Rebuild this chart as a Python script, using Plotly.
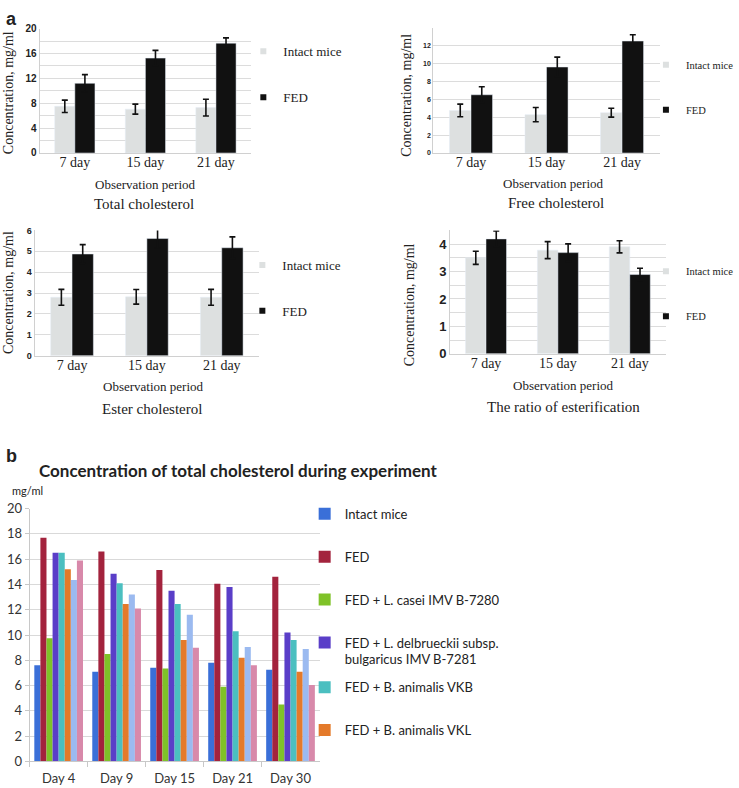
import plotly.graph_objects as go

W, H = 739, 788

# ---- panel a data ----
days_a = ["7 day", "15 day", "21 day"]
total_intact = [7.5, 7.05, 7.3]
total_intact_err = [1.0, 0.8, 1.35]
total_fed = [11.2, 15.25, 17.65]
total_fed_err = [1.4, 1.25, 0.85]

free_intact = [4.75, 4.28, 4.5]
free_intact_err = [0.7, 0.8, 0.5]
free_fed = [6.5, 9.6, 12.5]
free_fed_err = [0.9, 1.1, 0.7]

ester_intact = [2.8, 2.82, 2.8]
ester_intact_err = [0.38, 0.35, 0.38]
ester_fed = [4.87, 5.61, 5.17]
ester_fed_err = [0.45, 0.45, 0.52]

ratio_intact = [3.5, 3.78, 3.9]
ratio_intact_err = [0.24, 0.31, 0.22]
ratio_fed = [4.19, 3.69, 2.89]
ratio_fed_err = [0.29, 0.32, 0.23]

# ---- panel b data ----
days_b = ["Day 4", "Day 9", "Day 15", "Day 21", "Day 30"]
b_names = ["Intact mice", "FED", "FED + L. casei IMV B-7280",
           "FED + L. delbrueckii subsp.<br>bulgaricus IMV B-7281",
           "FED + B. animalis VKB", "FED + B. animalis VKL",
           "Series 7", "Series 8"]
b_intact = [7.6, 7.1, 7.4, 7.8, 7.25]
b_fed = [17.7, 16.6, 15.15, 14.05, 14.6]
b_casei = [9.75, 8.5, 7.35, 5.9, 4.5]
b_delb = [16.5, 14.85, 13.5, 13.8, 10.2]
b_vkb = [16.5, 14.1, 12.45, 10.3, 9.6]
b_vkl = [15.2, 12.45, 9.6, 8.2, 7.1]
b_s7 = [14.35, 13.2, 11.6, 9.05, 8.9]
b_s8 = [15.9, 12.1, 9.0, 7.6, 6.05]
b_colors = ["#3a6fd8", "#a3233d", "#7fc228", "#5a3ec8",
            "#4bbfc0", "#e47a2a", "#9bbaf0", "#d889aa"]

SERIF = "Liberation Serif"
SANS = "Liberation Sans"
CAL = "Lato"
GREY = "#dde0e0"
BLACK = "#111111"


def fx(px):
    return px / W


def fy(py):
    return 1 - py / H


fig = go.Figure()

panels = [
    # idx, intact, ierr, fed, ferr, domain x px, domain y px
    (1, total_intact, total_intact_err, total_fed, total_fed_err, (40, 254), (21, 148)),
    (2, free_intact, free_intact_err, free_fed, free_fed_err, (438, 667), (20, 148)),
    (3, ester_intact, ester_intact_err, ester_fed, ester_fed_err, (35, 262), (227, 355)),
    (4, ratio_intact, ratio_intact_err, ratio_fed, ratio_fed_err, (455, 673), (227, 353)),
]
# legend box left / top in px, legend font size
legend_pos = {1: (246, 29, 13), 2: (653, 43, 10.5), 3: (245, 247, 13), 4: (653, 254, 10.5)}
BW = 0.285

for idx, vi, ei, vf, ef, dx, dy in panels:
    sfx = "" if idx == 1 else str(idx)
    lg = "legend" if idx == 1 else f"legend{idx}"
    err_style = dict(type="data", thickness=1.6, width=3, color="#111111")
    fig.add_trace(go.Bar(x=days_a, y=vi, marker_color=GREY, showlegend=False,
                         width=BW, offset=-BW,
                         error_y=dict(array=ei, **err_style),
                         xaxis="x" + sfx, yaxis="y" + sfx))
    fig.add_trace(go.Bar(x=days_a, y=vf, marker_color=BLACK, showlegend=False,
                         width=BW, offset=0,
                         error_y=dict(array=ef, **err_style),
                         xaxis="x" + sfx, yaxis="y" + sfx))
    # legend entries
    for nm, col in [("Intact mice", GREY), ("FED", BLACK)]:
        fig.add_trace(go.Scatter(x=[None], y=[None], mode="markers", name=nm,
                                 marker=dict(symbol="square", size=6, color=col),
                                 legend=lg, legendgroup=f"{nm}{idx}",
                                 xaxis="x" + sfx, yaxis="y" + sfx))

# panel b bars
b_series = [b_intact, b_fed, b_casei, b_delb, b_vkb, b_vkl, b_s7, b_s8]
for i, (nm, vals, col) in enumerate(zip(b_names, b_series, b_colors)):
    fig.add_trace(go.Bar(x=days_b, y=vals, name=nm, marker_color=col,
                         marker_line_width=0, showlegend=i < 6,
                         legend="legend5" if i < 4 else "legend6",
                         legendgroup=f"b{i}",
                         xaxis="x5", yaxis="y5"))

layout = dict(
    width=W, height=H, autosize=False,
    margin=dict(l=0, r=0, t=0, b=0),
    paper_bgcolor="white", plot_bgcolor="white",
    barmode="group", bargroupgap=0, bargap=0.16,
    showlegend=True,
)

ax_common_x = dict(showgrid=False, showline=True, linecolor="#d0d0d0", linewidth=1,
                   ticks="", ticklabelstandoff=-4,
                   tickfont=dict(family=SERIF, size=14, color="#222"))
yspecs = {
    1: dict(range=[0, 20], tickvals=[0, 4, 8, 12, 16, 20], minor=dict(dtick=2, showgrid=True, gridcolor="#dcdcdc"),
            tickfont=dict(family=SANS, size=10, color="#222", weight="bold")),
    2: dict(range=[0, 14], tickvals=[0, 2, 4, 6, 8, 10, 12, 14], ticktext=["0", "2", "4", "6", "8", "10", "12", ""],
            tickfont=dict(family=SANS, size=7, color="#222", weight="bold")),
    3: dict(range=[0, 6], dtick=1,
            tickfont=dict(family=SANS, size=9, color="#222", weight="bold")),
    4: dict(range=[0, 4.5], tickvals=[0, 1, 2, 3, 4], minor=dict(dtick=0.5, showgrid=True, gridcolor="#dcdcdc"),
            tickfont=dict(family=SANS, size=13, color="#222", weight="bold")),
}
for idx, vi, ei, vf, ef, dx, dy in panels:
    sfx = "" if idx == 1 else str(idx)
    layout["xaxis" + sfx] = dict(ax_common_x, domain=[fx(dx[0]), fx(dx[1])], anchor="y" + sfx)
    ys = dict(showgrid=True, gridcolor="#dcdcdc", showline=True, linecolor="#d0d0d0",
              zeroline=False, ticks="", ticklen=0,
              domain=[fy(dy[1]), fy(dy[0])], anchor="x" + sfx)
    ys.update(yspecs[idx])
    layout["yaxis" + sfx] = ys
    lx, ly, lfs = legend_pos[idx]
    key = "legend" if idx == 1 else f"legend{idx}"
    layout[key] = dict(x=fx(lx), y=fy(ly), xanchor="left", yanchor="top",
                       bgcolor="rgba(0,0,0,0)", traceorder="grouped", tracegroupgap=26,
                       font=dict(family=SERIF, size=lfs, color="#222"))

layout["xaxis5"] = dict(domain=[fx(30), fx(323)], anchor="y5", showgrid=False,
                        showline=True, linecolor="#c8c8c8", ticks="outside",
                        tickson="boundaries", ticklen=5, tickcolor="#c8c8c8",
                        ticklabelstandoff=5,
                        tickfont=dict(family=CAL, size=13, color="#333"))
layout["yaxis5"] = dict(domain=[fy(769), fy(511)], anchor="x5", range=[0, 20], dtick=2,
                        showgrid=True, gridcolor="#d9d9d9", showline=True, linecolor="#c8c8c8",
                        ticks="outside", ticklen=4, tickcolor="#c8c8c8", zeroline=False,
                        tickfont=dict(family=CAL, size=13, color="#333"))
layout["legend5"] = dict(x=fx(308), y=fy(501), xanchor="left", yanchor="top",
                         traceorder="grouped", tracegroupgap=23, valign="top",
                         bgcolor="rgba(0,0,0,0)",
                         font=dict(family=CAL, size=13, color="#222"))
layout["legend6"] = dict(x=fx(308), y=fy(678), xanchor="left", yanchor="top",
                         traceorder="grouped", tracegroupgap=23, valign="top",
                         bgcolor="rgba(0,0,0,0)",
                         font=dict(family=CAL, size=13, color="#222"))

fig.update_layout(**layout)

ann = []


def text(x, y, s, size, family=SERIF, angle=0, bold=False, xanchor="center"):
    ann.append(dict(x=fx(x), y=fy(y), xref="paper", yref="paper", text=s,
                    showarrow=False, textangle=angle, xanchor=xanchor, yanchor="middle",
                    font=dict(family=family, size=size, color="#222",
                              weight="bold" if bold else "normal")))


text(4, 11, "a", 18, SANS, bold=True, xanchor="left")
text(4, 457, "b", 18, SANS, bold=True, xanchor="left")

text(8, 86, "Concentration, mg/ml", 14, angle=-90)
text(147, 180, "Observation period", 13)
text(146, 200, "Total cholesterol", 15)

text(411, 89, "Concentration, mg/ml", 14, angle=-90)
text(560, 179, "Observation period", 13)
text(562, 199, "Free cholesterol", 15)

text(8, 290, "Concentration, mg/ml", 14, angle=-90)
text(155, 386, "Observation period", 13)
text(154, 409, "Ester cholesterol", 15)

text(414, 303, "Concentration, mg/ml", 14, angle=-90)
text(570, 385, "Observation period", 13)
text(570, 407, "The ratio of esterification", 15)

text(241, 472, "Concentration of total cholesterol during experiment", 17, CAL, bold=True)
text(10, 493, "mg/ml", 11, CAL, xanchor="left")

fig.update_layout(annotations=ann)
# the default page margin would shift the figure by 8px inside the window
fig.write_html("out.html", config={"displayModeBar": False},
               post_script="document.body.style.margin='0';")
